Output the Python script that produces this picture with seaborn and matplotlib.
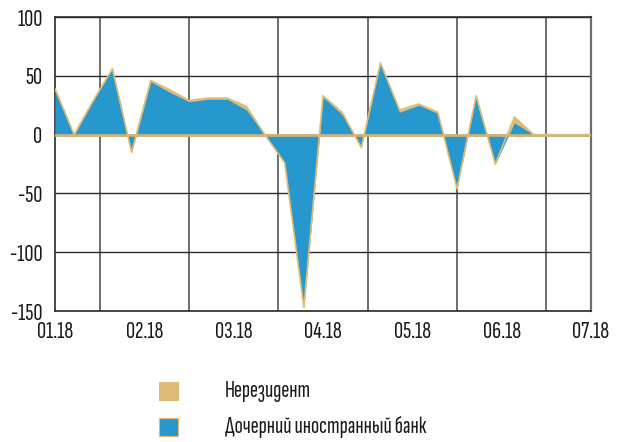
import numpy as np
import pandas as pd
import seaborn as sns
import matplotlib
matplotlib.use("Agg")
import matplotlib.pyplot as plt
from matplotlib.patches import Rectangle

# Weekly observations, January to July 2018
subsidiary = [39, 0, 29, 56, -15, 45, 36, 28, 30, 30, 21, -1, -24, -147, 32,
              17, -11, 61, 19, 25, 18, -46, 33, -25, 10, 0, 0, 0, 0]
nonresident = [0, 0, 0, 0, 0, 1, 2, 1, 1, 1, 3, 0, 0, 0, 1,
               2, 0, 0, 2, 1, 1, 0, 0, 0, 5, 0, 0, 0, 0]
month_labels = ["01.18", "02.18", "03.18", "04.18", "05.18", "06.18", "07.18"]
series_names = ["Нерезидент", "Дочерний иностранный банк"]

BLUE = "#2698CE"
TAN = "#DEBC78"

sns.set_theme(style="white")
plt.rcParams["font.family"] = ["Sofia Sans Extra Condensed", "Roboto Condensed", "DejaVu Sans"]

df = pd.DataFrame({
    "week": np.arange(len(subsidiary)),
    "subsidiary": subsidiary,
    "nonresident": nonresident,
})
df["total"] = df["subsidiary"] + df["nonresident"]

fig = plt.figure(figsize=(6.21, 4.42), dpi=100)
ax = fig.add_axes([55 / 621, 1 - 311 / 442, 536 / 621, 294 / 442])

n = len(df) - 1
ax.set_xlim(0, n)
ax.set_ylim(-150, 100)

# stacked areas
ax.fill_between(df["week"], 0, df["total"], color=TAN, lw=0, zorder=2)
ax.fill_between(df["week"], 0, df["subsidiary"], color=BLUE, lw=0, zorder=3)
sns.lineplot(data=df, x="week", y="total", color=TAN, lw=1.2, ax=ax, zorder=4)
ax.axhline(0, color="#CDB07A", lw=2, zorder=3.5)

# month ticks and grid
step = n / 6
ax.set_xticks([step * k for k in range(7)])
ax.set_xticklabels(month_labels)
ax.set_xticks([step * (k + 0.5) for k in range(6)], minor=True)
ax.set_yticks([-150, -100, -50, 0, 50, 100])
ax.set_yticklabels(["-150", "-100", "-50", "0", "50", "100"])
ax.grid(True, which="minor", axis="x", color="#6e6e6e", lw=1.4, zorder=1)
ax.grid(True, which="major", axis="y", color="#2a2a2a", lw=1.0, zorder=1)
ax.grid(False, which="major", axis="x")
ax.set_axisbelow(True)
ax.tick_params(axis="both", which="both", length=0, labelsize=18, colors="#1a1a1a")
ax.tick_params(axis="y", pad=9)
ax.tick_params(axis="x", pad=7)
ax.set_xlabel("")
ax.set_ylabel("")
for side in ["left", "bottom", "top"]:
    ax.spines[side].set_color("#2a2a2a")
    ax.spines[side].set_linewidth(1.2)
ax.spines["right"].set_color("#6e6e6e")
ax.spines["right"].set_linewidth(1.6)

# legend rows
W, H = 621, 442
for (name, face, edge, top) in [(series_names[0], TAN, TAN, 382),
                                (series_names[1], BLUE, TAN, 418)]:
    fig.patches.append(Rectangle((159 / W, 1 - (top + 18) / H), 19 / W, 18 / H,
                                 facecolor=face, edgecolor=edge, lw=0.8,
                                 transform=fig.transFigure, figure=fig))
    fig.text(225 / W, 1 - (top + 9) / H, name, fontsize=17.5, color="#1a1a1a",
             ha="left", va="center")

fig.savefig("out.png", dpi=100)
